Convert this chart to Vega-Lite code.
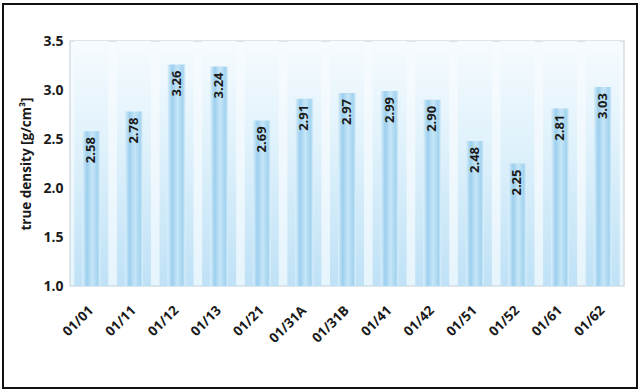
{
  "$schema": "https://vega.github.io/schema/vega-lite/v6.json",
  "width": 554,
  "height": 245,
  "autosize": {"type": "none"},
  "padding": {"left": 70, "top": 41, "right": 16, "bottom": 103},
  "background": "white",
  "view": {
    "stroke": "#d3dee6",
    "strokeWidth": 1.5,
    "fill": {"gradient": "linear", "x1": 0, "y1": 0, "x2": 0, "y2": 1,
      "stops": [{"offset": 0, "color": "#f7fbfe"}, {"offset": 0.5, "color": "#eff8fd"}, {"offset": 1, "color": "#e6f4fc"}]}
  },
  "data": {"values": [
    {"sample": "01/01", "density": 2.58},
    {"sample": "01/11", "density": 2.78},
    {"sample": "01/12", "density": 3.26},
    {"sample": "01/13", "density": 3.24},
    {"sample": "01/21", "density": 2.69},
    {"sample": "01/31A", "density": 2.91},
    {"sample": "01/31B", "density": 2.97},
    {"sample": "01/41", "density": 2.99},
    {"sample": "01/42", "density": 2.90},
    {"sample": "01/51", "density": 2.48},
    {"sample": "01/52", "density": 2.25},
    {"sample": "01/61", "density": 2.81},
    {"sample": "01/62", "density": 3.03}
  ]},
  "encoding": {
    "x": {
      "field": "sample", "type": "nominal", "sort": null,
      "scale": {"paddingInner": 0, "paddingOuter": 0},
      "axis": {
        "title": null, "domain": false, "ticks": false,
        "labelAngle": -45, "labelAlign": "right", "labelBaseline": "middle",
        "labelPadding": 22, "labelFont": "Open Sans", "labelFontWeight": "bold",
        "labelFontSize": 13.5, "labelColor": "#1a1a1a"
      }
    }
  },
  "layer": [
    {
      "mark": {"type": "bar", "width": 34,
        "color": {"gradient": "linear", "x1": 0, "y1": 0, "x2": 0, "y2": 1,
          "stops": [{"offset": 0, "color": "#f6fbfe"}, {"offset": 0.45, "color": "#def1fb"}, {"offset": 1, "color": "#bfe1f6"}]}},
      "encoding": {
        "y": {"datum": 3.5, "type": "quantitative", "scale": {"domain": [1, 3.5]}},
        "y2": {"datum": 1}
      }
    },
    {
      "mark": {"type": "bar", "width": 18,
        "color": {"gradient": "linear", "x1": 0, "y1": 0, "x2": 1, "y2": 0,
          "stops": [{"offset": 0, "color": "#dcf0fb"}, {"offset": 0.25, "color": "#9ccfee"}, {"offset": 0.55, "color": "#c6e6f7"}, {"offset": 0.85, "color": "#a3d3ef"}, {"offset": 1, "color": "#dff1fb"}]}},
      "encoding": {
        "y": {
          "field": "density", "type": "quantitative",
          "scale": {"domain": [1, 3.5], "zero": false, "nice": false},
          "axis": {
            "title": "true density [g/cm³]", "titleFont": "Open Sans", "titleFontWeight": "bold",
            "titleFontSize": 13.5, "titleColor": "#1a1a1a", "titlePadding": 9,
            "values": [1, 1.5, 2, 2.5, 3, 3.5], "format": ".1f",
            "domain": false, "ticks": false, "grid": false,
            "labelFont": "Open Sans", "labelFontWeight": "bold", "labelFontSize": 14,
            "labelColor": "#1a1a1a", "labelPadding": 7
          }
        },
        "y2": {"datum": 1}
      }
    },
    {
      "mark": {"type": "text", "angle": 270, "align": "right", "baseline": "middle", "dx": -6,
        "font": "Open Sans", "fontWeight": "bold", "fontSize": 13, "color": "#1a1a1a"},
      "encoding": {
        "y": {"field": "density", "type": "quantitative"},
        "text": {"field": "density", "type": "quantitative", "format": ".2f"}
      }
    },
    {
      "mark": {"type": "rect", "fill": null, "stroke": "#111111", "strokeWidth": 1.5, "clip": false},
      "encoding": {
        "x": {"value": -67},
        "x2": {"value": 567},
        "y": {"value": -37},
        "y2": {"value": 347}
      }
    }
  ]
}
